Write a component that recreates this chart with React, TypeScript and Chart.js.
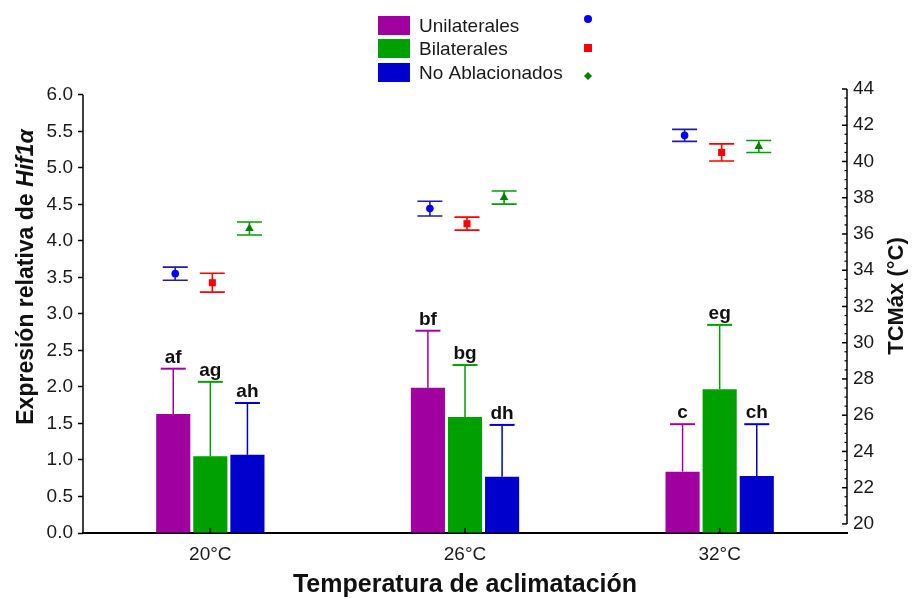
import React, { useEffect, useRef } from 'react';
import { Chart, registerables } from 'chart.js';

Chart.register(...registerables);

// ---------- data ----------
const categories = ['20°C', '26°C', '32°C'];
const groupNames = ['Unilaterales', 'Bilaterales', 'No Ablacionados'];

// Expresión relativa de Hif1α (left axis)
const hifUnilaterales = [1.63, 1.99, 0.84];
const hifBilaterales = [1.05, 1.59, 1.97];
const hifNoAblacionados = [1.07, 0.77, 0.78];
const hifErrUnilaterales = [0.62, 0.78, 0.65];
const hifErrBilaterales = [1.02, 0.71, 0.88];
const hifErrNoAblacionados = [0.71, 0.71, 0.71];
const lettersUnilaterales = ['af', 'bf', 'c'];
const lettersBilaterales = ['ag', 'bg', 'eg'];
const lettersNoAblacionados = ['ah', 'dh', 'ch'];

// TCMáx (°C) (right axis)
const tcmUnilaterales = [33.81, 37.4, 41.44];
const tcmBilaterales = [33.31, 36.57, 40.5];
const tcmNoAblacionados = [36.3, 38.01, 40.83];
const tcmErrUnilaterales = [0.36, 0.41, 0.33];
const tcmErrBilaterales = [0.52, 0.36, 0.47];
const tcmErrNoAblacionados = [0.36, 0.36, 0.33];

// axis settings
const leftMin = 0;
const leftMax = 6.08;
const leftStep = 0.5;
const leftTop = 6;
const rightMin = 19.5;
const rightMax = 44;
const rightBottomTick = 20;
const rightStep = 2;
const rightMinorStep = 0.5;

const FONT = '"Liberation Sans", Arial, Helvetica, sans-serif';
const TXT = '#1a1a1a';

const barColors = ['rgb(160,0,160)', 'rgb(0,160,0)', 'rgb(0,0,204)'];
const pointColors = ['rgb(0,0,255)', 'rgb(255,0,0)', 'rgb(0,128,0)'];
const pointErrColors = ['rgb(30,30,160)', 'rgb(255,0,0)', 'rgb(0,160,0)'];
const pointStyles = ['circle', 'rect', 'triangle'];
const legendPointStyles = ['circle', 'rect', 'diamond'];
const pointRadii = [3.8, 5, 5];

const hifValues = [hifUnilaterales, hifBilaterales, hifNoAblacionados];
const hifErrors = [hifErrUnilaterales, hifErrBilaterales, hifErrNoAblacionados];
const letters = [lettersUnilaterales, lettersBilaterales, lettersNoAblacionados];
const tcmValues = [tcmUnilaterales, tcmBilaterales, tcmNoAblacionados];
const tcmErrors = [tcmErrUnilaterales, tcmErrBilaterales, tcmErrNoAblacionados];

function drawMarker(ctx: CanvasRenderingContext2D, style: string, cx: number, cy: number, r: number) {
  ctx.beginPath();
  if (style === 'circle') {
    ctx.arc(cx, cy, r, 0, Math.PI * 2);
  } else if (style === 'rect') {
    ctx.rect(cx - r, cy - r, 2 * r, 2 * r);
  } else {
    ctx.moveTo(cx, cy - r);
    ctx.lineTo(cx + r, cy);
    ctx.lineTo(cx, cy + r);
    ctx.lineTo(cx - r, cy);
    ctx.closePath();
  }
  ctx.fill();
}

const customPlugin = {
  id: 'customDraw',
  afterDatasetsUpdate(chart: any) {
    for (let i = 0; i < 3; i++) {
      const bars = chart.getDatasetMeta(i).data;
      const pts = chart.getDatasetMeta(i + 3).data;
      pts.forEach((el: any, j: number) => {
        if (bars[j]) el.x = bars[j].x + 2;
      });
    }
  },
  beforeDatasetsDraw(chart: any) {
    const ctx = chart.ctx;
    const y1 = chart.scales.y1;
    ctx.save();
    for (let i = 0; i < 3; i++) {
      const pts = chart.getDatasetMeta(i + 3).data;
      pts.forEach((el: any, j: number) => {
        const v = tcmValues[i][j];
        const e = tcmErrors[i][j];
        const yHi = y1.getPixelForValue(v + e);
        const yLo = y1.getPixelForValue(v - e);
        ctx.strokeStyle = pointErrColors[i];
        ctx.lineWidth = 1.6;
        ctx.beginPath();
        ctx.moveTo(el.x, yHi);
        ctx.lineTo(el.x, yLo);
        ctx.moveTo(el.x - 12.5, yHi);
        ctx.lineTo(el.x + 12.5, yHi);
        ctx.moveTo(el.x - 12.5, yLo);
        ctx.lineTo(el.x + 12.5, yLo);
        ctx.stroke();
      });
    }
    ctx.restore();
  },
  afterDatasetsDraw(chart: any) {
    const ctx = chart.ctx;
    const y = chart.scales.y;
    ctx.save();
    for (let i = 0; i < 3; i++) {
      const bars = chart.getDatasetMeta(i).data;
      bars.forEach((el: any, j: number) => {
        const v = hifValues[i][j];
        const e = hifErrors[i][j];
        const yTop = y.getPixelForValue(v + e);
        ctx.strokeStyle = barColors[i];
        ctx.lineWidth = 1.5;
        ctx.beginPath();
        ctx.moveTo(el.x, el.y);
        ctx.lineTo(el.x, yTop);
        ctx.stroke();
        ctx.lineWidth = 2;
        ctx.beginPath();
        ctx.moveTo(el.x - 12.5, yTop);
        ctx.lineTo(el.x + 12.5, yTop);
        ctx.stroke();
        ctx.fillStyle = '#111';
        ctx.font = `bold 19px ${FONT}`;
        ctx.textAlign = 'center';
        ctx.textBaseline = 'alphabetic';
        ctx.fillText(letters[i][j], el.x, yTop - 6);
      });
    }
    ctx.restore();
  },
  afterDraw(chart: any) {
    const ctx = chart.ctx;
    const y = chart.scales.y;
    const y1 = chart.scales.y1;
    const x = chart.scales.x;
    const area = chart.chartArea;
    ctx.save();
    ctx.strokeStyle = '#000';
    // left axis line
    ctx.lineWidth = 1.5;
    ctx.beginPath();
    ctx.moveTo(area.left, y.getPixelForValue(leftTop));
    ctx.lineTo(area.left, y.getPixelForValue(leftMin));
    ctx.stroke();
    // right axis line + ticks (inside)
    const rTop = y1.getPixelForValue(rightMax);
    const rBot = y1.getPixelForValue(rightBottomTick);
    ctx.beginPath();
    ctx.moveTo(area.right, rTop);
    ctx.lineTo(area.right, rBot);
    ctx.stroke();
    for (let v = rightBottomTick; v <= rightMax + 1e-6; v += rightMinorStep) {
      const py = y1.getPixelForValue(v);
      const major = Math.abs(v / rightStep - Math.round(v / rightStep)) < 1e-6;
      ctx.lineWidth = major ? 1.5 : 1.2;
      ctx.beginPath();
      ctx.moveTo(area.right, py);
      ctx.lineTo(area.right - (major ? 5 : 2.5), py);
      ctx.stroke();
    }
    // x ticks (inside)
    ctx.lineWidth = 1.5;
    categories.forEach((_, j) => {
      const px = x.getPixelForValue(j);
      ctx.beginPath();
      ctx.moveTo(px, area.bottom);
      ctx.lineTo(px, area.bottom - 5);
      ctx.stroke();
    });

    // titles
    ctx.fillStyle = '#111';
    ctx.textBaseline = 'middle';
    ctx.save();
    ctx.translate(27, 277);
    ctx.rotate(-Math.PI / 2);
    const part1 = 'Expresión relativa de ';
    const part2 = 'Hif1α';
    ctx.font = `bold 23px ${FONT}`;
    const w1 = ctx.measureText(part1).width;
    ctx.font = `italic bold 23px ${FONT}`;
    const w2 = ctx.measureText(part2).width;
    const start = -(w1 + w2) / 2;
    ctx.textAlign = 'left';
    ctx.font = `bold 23px ${FONT}`;
    ctx.fillText(part1, start, 0);
    ctx.font = `italic bold 23px ${FONT}`;
    ctx.fillText(part2, start + w1, 0);
    ctx.restore();
    ctx.save();
    ctx.translate(897, 296);
    ctx.rotate(-Math.PI / 2);
    ctx.textAlign = 'center';
    ctx.font = `bold 22px ${FONT}`;
    ctx.fillText('TCMáx (°C)', 0, 0);
    ctx.restore();
    ctx.textAlign = 'center';
    ctx.font = `bold 25px ${FONT}`;
    ctx.fillText('Temperatura de aclimatación', 465, 585);

    // legend
    const rowsY = [26, 49, 73];
    groupNames.forEach((name, i) => {
      ctx.fillStyle = barColors[i];
      ctx.fillRect(378, rowsY[i] - 10, 32, 19);
      ctx.fillStyle = TXT;
      ctx.font = `19px ${FONT}`;
      ctx.textAlign = 'left';
      ctx.textBaseline = 'middle';
      ctx.fillText(name, 419, rowsY[i] + 1);
    });
    const markY = [19, 48, 76];
    for (let i = 0; i < 3; i++) {
      ctx.fillStyle = pointColors[i];
      drawMarker(ctx, legendPointStyles[i], 588, markY[i], i === 0 ? 4 : 4);
    }
    ctx.restore();
  },
};

export default function App() {
  const ref = useRef<HTMLCanvasElement | null>(null);

  useEffect(() => {
    document.body.style.margin = '0';
    const canvas = ref.current;
    if (!canvas) return;

    const barDatasets = groupNames.map((name, i) => ({
      type: 'bar' as const,
      label: name,
      data: hifValues[i],
      backgroundColor: barColors[i],
      borderWidth: 0,
      yAxisID: 'y',
      barPercentage: 0.92,
      categoryPercentage: 0.437,
    }));
    const pointDatasets = groupNames.map((name, i) => ({
      type: 'line' as const,
      label: name + ' TCMáx',
      data: tcmValues[i],
      showLine: false,
      yAxisID: 'y1',
      pointStyle: pointStyles[i],
      pointRadius: pointRadii[i],
      pointBackgroundColor: pointColors[i],
      pointBorderColor: pointColors[i],
      pointBorderWidth: 0,
      borderColor: pointColors[i],
      backgroundColor: pointColors[i],
    }));

    const chart = new Chart(canvas, {
      type: 'bar',
      data: {
        labels: categories,
        datasets: [...barDatasets, ...pointDatasets] as any,
      },
      options: {
        responsive: false,
        animation: false,
        devicePixelRatio: 1,
        layout: { padding: { top: 89, left: 0, right: 0, bottom: 0 } },
        plugins: {
          legend: { display: false },
          tooltip: { enabled: false },
          title: { display: false },
        },
        scales: {
          x: {
            type: 'category',
            offset: true,
            grid: { display: false, drawTicks: false },
            border: { display: true, color: '#000', width: 2 },
            ticks: {
              color: TXT,
              font: { family: FONT, size: 19 },
              padding: 10,
              maxRotation: 0,
            },
            afterFit: (s: any) => {
              s.height = 66;
            },
          },
          y: {
            type: 'linear',
            position: 'left',
            min: leftMin,
            max: leftMax,
            grid: {
              display: true,
              drawOnChartArea: false,
              drawTicks: true,
              tickLength: 5,
              tickColor: '#000',
              tickWidth: 1.5,
            },
            border: { display: false },
            ticks: {
              stepSize: leftStep,
              includeBounds: false,
              color: TXT,
              font: { family: FONT, size: 19 },
              padding: 5,
              callback: (v: any) => Number(v).toFixed(1),
            },
            afterFit: (s: any) => {
              s.width = 83;
            },
          },
          y1: {
            type: 'linear',
            position: 'right',
            min: rightMin,
            max: rightMax,
            grid: { display: false, drawOnChartArea: false, drawTicks: false },
            border: { display: false },
            ticks: {
              stepSize: rightStep,
              includeBounds: false,
              color: TXT,
              font: { family: FONT, size: 19 },
              padding: 6,
              callback: (v: any) => String(v),
            },
            afterFit: (s: any) => {
              s.width = 68;
            },
          },
        },
      } as any,
      plugins: [customPlugin],
    });

    return () => {
      chart.destroy();
    };
  }, []);

  return (
    <div style={{ width: 915, height: 599, position: 'relative', background: '#fff' }}>
      <canvas ref={ref} width={915} height={599} style={{ display: 'block' }} />
    </div>
  );
}
